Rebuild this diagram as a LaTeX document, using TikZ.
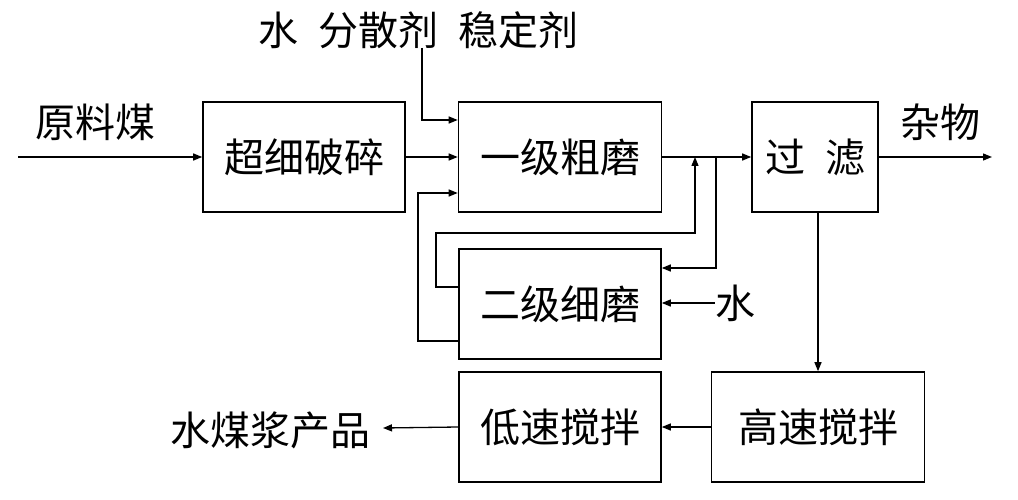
\documentclass[tikz,border=0pt]{standalone}
\usepackage{fontspec}
\setmainfont{Noto Sans CJK SC}
\usetikzlibrary{arrows.meta}
\begin{document}
\begin{tikzpicture}[x=1pt,y=-1pt,
  box/.style={draw,line width=1.6pt,minimum width=#1,minimum height=110pt,inner sep=0pt,font=\fontsize{40}{44}\selectfont},
  lab/.style={inner sep=0pt,font=\fontsize{40}{44}\selectfont},
  ar/.style={line width=1.3pt,-{Triangle[length=9pt,width=7pt]}}]
\useasboundingbox (0,0) rectangle (1018,500);
\node[box=202pt] (cx) at (304,157) {超细破碎};
\node[box=203pt] (y1) at (560,157) {一级粗磨};
\node[box=126pt] (gl) at (815,157) {过\enspace 滤};
\node[box=202pt] (e2) at (560,304) {二级细磨};
\node[box=213pt] (gs) at (818,427) {高速搅拌};
\node[box=202pt] (ds) at (560,427) {低速搅拌};
\node[lab] (t1) at (95,122) {原料煤};
\node[lab] (t2) at (418,30) {水\enspace 分散剂\enspace 稳定剂};
\node[lab] (t3) at (940,122) {杂物};
\node[lab] (t4) at (735,303) {水};
\node[lab] (t5) at (270,430) {水煤浆产品};
\coordinate (in) at (18,157);
\coordinate (out) at (992,157);
\coordinate (prod) at (383,428);
\draw[ar] (in) -- (cx.west);
\draw[ar] (cx.east) -- (y1.west);
\draw[ar] (y1.east) -- (gl.west);
\draw[ar] (gl.east) -- (out);
\draw[ar] (422,48) -- (422,120) -- (y1.west |- 0,120);
\draw[ar] (e2.west |- 0,287) -- (436,287) -- (436,233) -- (695,233) -- (695,157);
\draw[ar] (716,157) -- (716,268) -- (e2.east |- 0,268);
\draw[ar] (e2.west |- 0,341) -- (418,341) -- (418,193) -- (y1.west |- 0,193);
\draw[ar] (t4.west) -- (e2.east |- t4.west);
\draw[ar] (gl.south -| 818,0) -- (gs.north);
\draw[ar] (gs.west) -- (ds.east);
\draw[ar] (ds.west) -- (prod);
\end{tikzpicture}
\end{document}
